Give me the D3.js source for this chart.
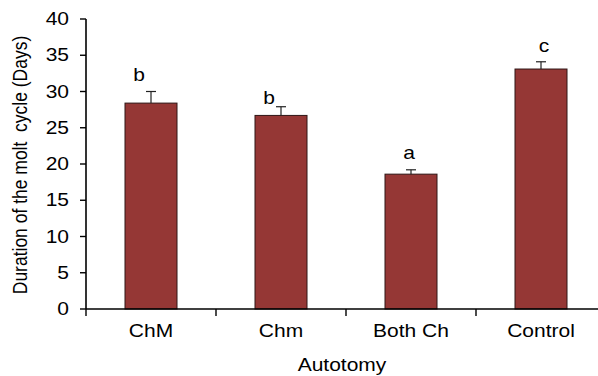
<!DOCTYPE html>
<html>
<head>
<meta charset="utf-8">
<script src="https://cdn.jsdelivr.net/npm/d3@7"></script>
<style>
  html, body { margin: 0; padding: 0; background: #fff; }
  svg { display: block; }
  text { font-family: "Liberation Sans", Arial, sans-serif; fill: #000; white-space: pre; }
</style>
</head>
<body>
<svg id="chart" width="598" height="376"></svg>
<script>
// ---- data ----
const categories = ["ChM", "Chm", "Both Ch", "Control"];
const values = [28.4, 26.7, 18.6, 33.1];
const errors = [1.6, 1.2, 0.6, 1.0];
const letters = ["b", "b", "a", "c"];
const yTicks = [0, 5, 10, 15, 20, 25, 30, 35, 40];
const xTitle = "Autotomy";
const yTitle = "Duration of the molt  cycle (Days)";

// ---- layout ----
const W = 598, H = 376;
const x0 = 86, x1 = 606, yTop = 19, yBot = 309;
const fontSize = 17.5, sx = 1.2;
const letterDx = [-12, -12, -2, 3];
const letterDy = [-11, -3, -11, -10];
const barColor = "#953735";

const svg = d3.select("#chart");

const y = d3.scaleLinear().domain([0, 40]).range([yBot, yTop]);
const x = d3.scaleBand().domain(categories).range([x0, x1])
  .paddingInner(0.6).paddingOuter(0.3);

// bars
svg.append("g").selectAll("rect").data(categories).join("rect")
  .attr("x", d => x(d))
  .attr("y", (d, i) => y(values[i]))
  .attr("width", x.bandwidth())
  .attr("height", (d, i) => y(0) - y(values[i]))
  .attr("fill", barColor)
  .attr("stroke", "#2e1616")
  .attr("stroke-width", 1);

// error bars (upper only)
const eg = svg.append("g").attr("stroke", "#222").attr("stroke-width", 1.2);
categories.forEach((c, i) => {
  const cx = x(c) + x.bandwidth() / 2;
  eg.append("line").attr("x1", cx).attr("x2", cx)
    .attr("y1", y(values[i])).attr("y2", y(values[i] + errors[i]));
  eg.append("line").attr("x1", cx - 5).attr("x2", cx + 5)
    .attr("y1", y(values[i] + errors[i])).attr("y2", y(values[i] + errors[i]));
});

// significance letters
svg.append("g").selectAll("text").data(letters).join("text")
  .attr("text-anchor", "middle")
  .attr("font-size", fontSize)
  .attr("transform", (d, i) => {
    const cx = x(categories[i]) + x.bandwidth() / 2 + letterDx[i];
    const cy = y(values[i] + errors[i]) + letterDy[i];
    return `translate(${cx},${cy}) scale(${sx},1)`;
  })
  .text(d => d);

// y axis
const yAxis = svg.append("g");
yAxis.append("line").attr("x1", x0).attr("x2", x0).attr("y1", yTop).attr("y2", yBot)
  .attr("stroke", "#000").attr("stroke-width", 1.6);
yAxis.selectAll("line.t").data(yTicks).join("line").attr("class", "t")
  .attr("x1", x0 - 6).attr("x2", x0).attr("y1", d => y(d)).attr("y2", d => y(d))
  .attr("stroke", "#000").attr("stroke-width", 1.4);
yAxis.selectAll("text").data(yTicks).join("text")
  .attr("text-anchor", "end")
  .attr("font-size", fontSize)
  .attr("transform", d => `translate(${69},${y(d) + 6}) scale(${sx},1)`)
  .text(d => d);

// x axis
const xAxis = svg.append("g");
xAxis.append("line").attr("x1", x0).attr("x2", W).attr("y1", yBot).attr("y2", yBot)
  .attr("stroke", "#000").attr("stroke-width", 1.6);
const boundaries = categories.map(c => x(c) - x.step() * x.paddingInner() / 2);
boundaries[0] = x0;
xAxis.selectAll("line.t").data(boundaries).join("line").attr("class", "t")
  .attr("x1", d => d).attr("x2", d => d).attr("y1", yBot).attr("y2", yBot + 7)
  .attr("stroke", "#000").attr("stroke-width", 1.4);
xAxis.selectAll("text").data(categories).join("text")
  .attr("text-anchor", "middle")
  .attr("font-size", fontSize)
  .attr("transform", d => `translate(${x(d) + x.bandwidth() / 2},${337}) scale(${sx},1)`)
  .text(d => d);

// axis titles
svg.append("text")
  .attr("text-anchor", "middle")
  .attr("font-size", fontSize)
  .attr("transform", `translate(${(x0 + W) / 2},${371}) scale(${sx},1)`)
  .text(xTitle);

svg.append("text")
  .attr("text-anchor", "middle")
  .attr("font-size", fontSize)
  .attr("transform", `translate(${27},${165}) rotate(-90) scale(1,${sx})`)
  .text(yTitle);
</script>
</body>
</html>
